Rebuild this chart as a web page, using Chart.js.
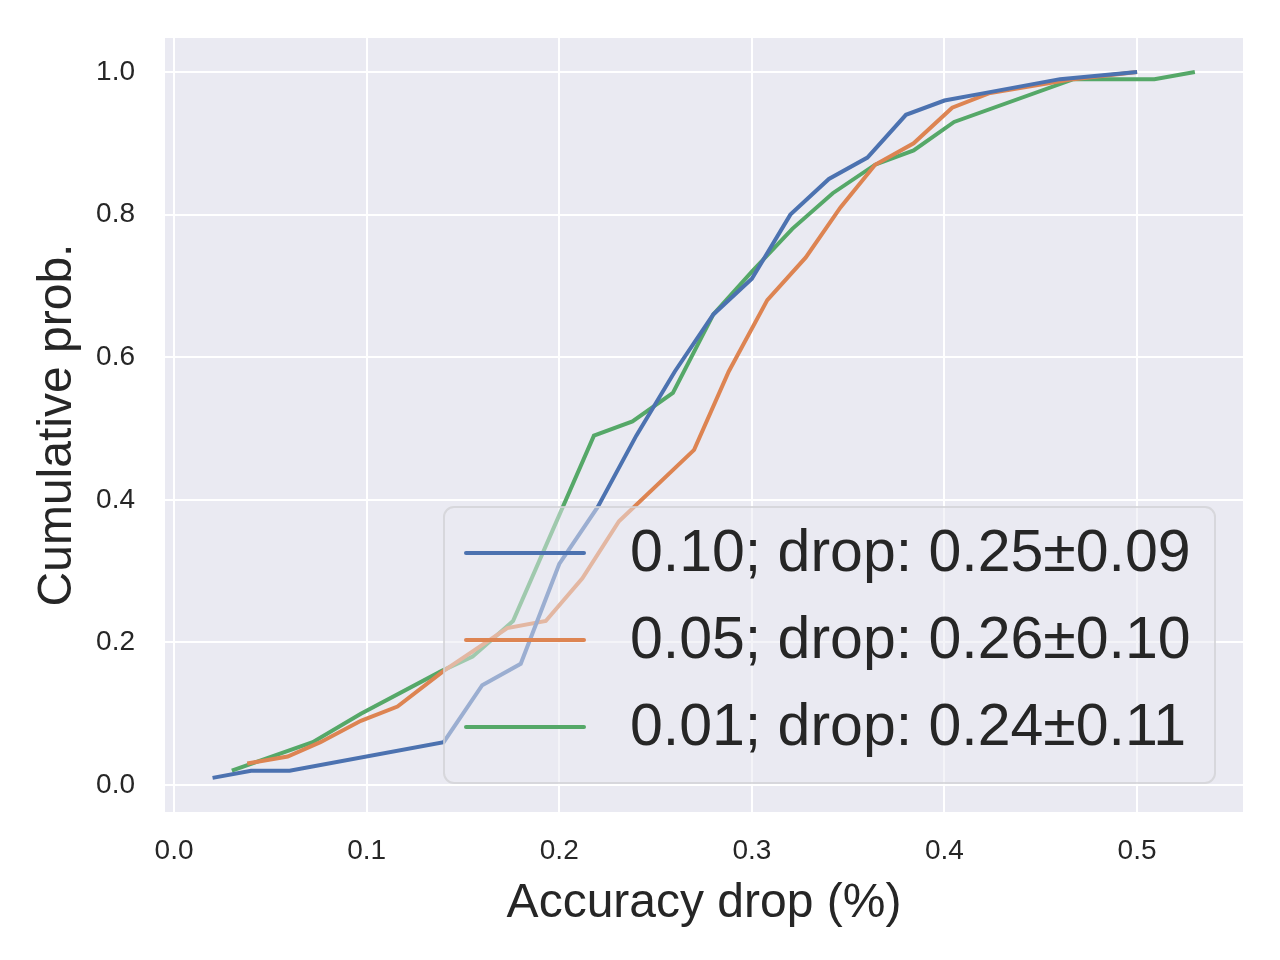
<!DOCTYPE html>
<html>
<head>
<meta charset="utf-8">
<script src="https://cdn.jsdelivr.net/npm/chart.js@4.4.0/dist/chart.umd.min.js"></script>
<style>
  body { margin: 0; background: #fff; }
  #wrap { width: 1280px; height: 960px; }
</style>
</head>
<body>
<div id="wrap"><canvas id="cdf" width="1280" height="960"></canvas></div>
<script>
// series
const labels = ['0.10; drop: 0.25\u00b10.09', '0.05; drop: 0.26\u00b10.10', '0.01; drop: 0.24\u00b10.11'];
const colors = ['#4c72b0', '#dd8452', '#55a868'];

const blueX = [0.02, 0.04, 0.06, 0.14, 0.16, 0.18, 0.20, 0.22, 0.24, 0.26, 0.28, 0.30, 0.32, 0.34, 0.36, 0.38, 0.40, 0.42, 0.46, 0.50];
const blueY = [0.01, 0.02, 0.02, 0.06, 0.14, 0.17, 0.31, 0.39, 0.49, 0.58, 0.66, 0.71, 0.80, 0.85, 0.88, 0.94, 0.96, 0.97, 0.99, 1.00];

const orangeX = [0.038, 0.059, 0.076, 0.097, 0.116, 0.14, 0.173, 0.193, 0.212, 0.231, 0.27, 0.288, 0.308, 0.328, 0.346, 0.364, 0.384, 0.404, 0.423, 0.467, 0.50];
const orangeY = [0.03, 0.04, 0.06, 0.09, 0.11, 0.16, 0.22, 0.23, 0.29, 0.37, 0.47, 0.58, 0.68, 0.74, 0.81, 0.87, 0.90, 0.95, 0.97, 0.99, 1.00];

const greenX = [0.03, 0.072, 0.097, 0.139, 0.155, 0.176, 0.218, 0.238, 0.259, 0.28, 0.30, 0.321, 0.342, 0.364, 0.384, 0.405, 0.467, 0.509, 0.53];
const greenY = [0.02, 0.06, 0.10, 0.16, 0.18, 0.23, 0.49, 0.51, 0.55, 0.66, 0.72, 0.78, 0.83, 0.87, 0.89, 0.93, 0.99, 0.99, 1.00];

const xTicks = [0.0, 0.1, 0.2, 0.3, 0.4, 0.5];
const yTicks = [0.0, 0.2, 0.4, 0.6, 0.8, 1.0];

const toPts = (xs, ys) => xs.map((x, i) => ({ x: x, y: ys[i] }));
const series = [toPts(blueX, blueY), toPts(orangeX, orangeY), toPts(greenX, greenY)];

const FONT = '"Liberation Sans", Arial, sans-serif';
const TEXT = '#262626';

const bgPlugin = {
    id: 'bgPlugin',
    beforeDraw(chart) {
        const ctx = chart.ctx, a = chart.chartArea;
        ctx.save();
        ctx.fillStyle = '#ffffff';
        ctx.fillRect(0, 0, chart.width, chart.height);
        ctx.fillStyle = '#eaeaf2';
        ctx.fillRect(a.left, a.top, a.right - a.left, a.bottom - a.top);
        ctx.restore();
    }
};

// legend drawn over the lines, matplotlib style
const overlayLegend = {
    id: 'overlayLegend',
    afterDatasetsDraw(chart) {
        const ctx = chart.ctx;
        const box = { x: 444, y: 507, w: 771, h: 276, r: 10 };
        ctx.save();
        ctx.beginPath();
        ctx.roundRect(box.x, box.y, box.w, box.h, box.r);
        ctx.fillStyle = 'rgba(234,234,242,0.5)';
        ctx.fill();
        ctx.lineWidth = 2;
        ctx.strokeStyle = 'rgba(210,210,214,0.8)';
        ctx.stroke();
        ctx.font = '59px ' + FONT;
        ctx.textBaseline = 'middle';
        ctx.fillStyle = TEXT;
        chart.data.datasets.forEach((ds, i) => {
            const cy = 553 + i * 87;
            ctx.beginPath();
            ctx.moveTo(466, cy);
            ctx.lineTo(584, cy);
            ctx.strokeStyle = ds.borderColor;
            ctx.lineWidth = 4;
            ctx.lineCap = 'round';
            ctx.stroke();
            ctx.fillText(ds.label, 630, cy + 2);
        });
        ctx.restore();
    }
};

new Chart(document.getElementById('cdf').getContext('2d'), {
    type: 'line',
    data: {
        datasets: series.map((pts, i) => ({
            label: labels[i],
            data: pts,
            borderColor: colors[i],
            backgroundColor: colors[i],
            borderWidth: 4,
            pointRadius: 0,
            tension: 0,
            fill: false
        }))
    },
    options: {
        responsive: false,
        animation: false,
        devicePixelRatio: 1,
        layout: { padding: { top: 38, right: 37, left: 0, bottom: 0 } },
        plugins: { legend: { display: false }, tooltip: { enabled: false } },
        scales: {
            x: {
                type: 'linear',
                min: -0.0047,
                max: 0.555,
                afterBuildTicks: axis => { axis.ticks = xTicks.map(v => ({ value: v })); },
                afterFit: scale => { scale.height = 148; scale.paddingLeft = 0; scale.paddingRight = 0; },
                grid: { color: '#ffffff', lineWidth: 2, drawTicks: false },
                border: { display: false },
                ticks: {
                    padding: 22,
                    color: TEXT,
                    font: { family: FONT, size: 28 },
                    callback: v => v.toFixed(1)
                },
                title: {
                    display: true,
                    text: 'Accuracy drop (%)',
                    color: TEXT,
                    font: { family: FONT, size: 48 },
                    padding: { top: 0, bottom: 27 }
                }
            },
            y: {
                type: 'linear',
                min: -0.0379,
                max: 1.0477,
                afterBuildTicks: axis => { axis.ticks = yTicks.map(v => ({ value: v })); },
                afterFit: scale => { scale.width = 165; scale.paddingTop = 0; scale.paddingBottom = 0; },
                grid: { color: '#ffffff', lineWidth: 2, drawTicks: false },
                border: { display: false },
                ticks: {
                    padding: 30,
                    color: TEXT,
                    font: { family: FONT, size: 28 },
                    callback: v => v.toFixed(1)
                },
                title: {
                    display: true,
                    text: 'Cumulative prob.',
                    color: TEXT,
                    font: { family: FONT, size: 48 },
                    padding: { top: 29, bottom: 0 }
                }
            }
        }
    },
    plugins: [bgPlugin, overlayLegend]
});
</script>
</body>
</html>
